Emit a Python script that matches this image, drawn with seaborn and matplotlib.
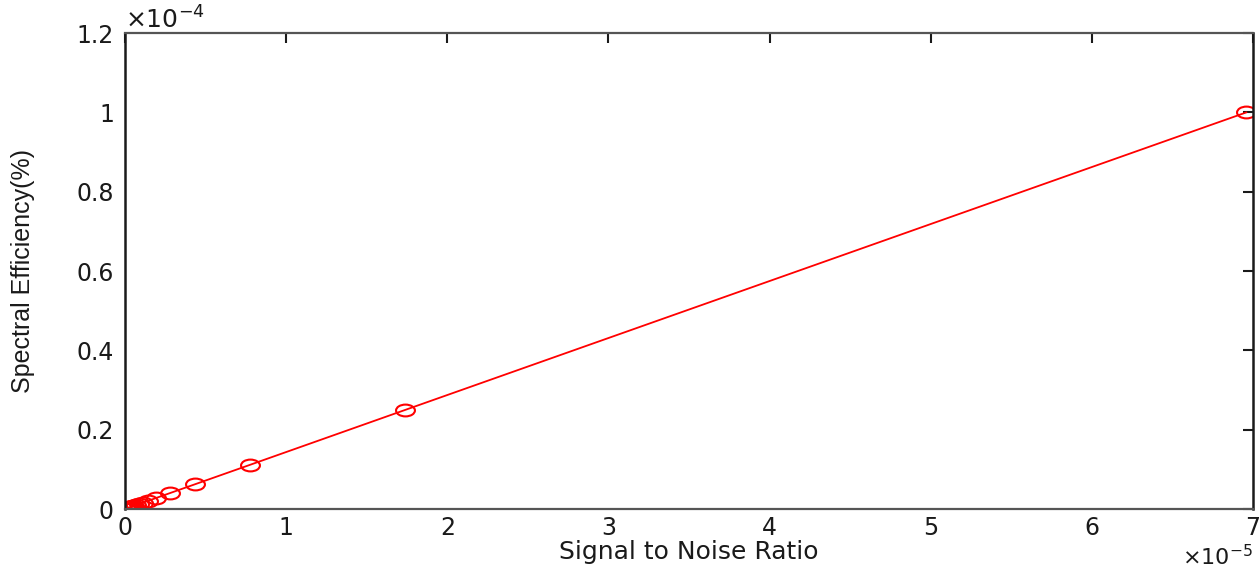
import numpy as np
import matplotlib
matplotlib.use("Agg")
import matplotlib.pyplot as plt
import seaborn as sns
import pandas as pd
from matplotlib.markers import MarkerStyle
from matplotlib.transforms import Affine2D
from matplotlib.ticker import ScalarFormatter, MultipleLocator

# values (x shown in units of 1e-5, y in units of 1e-4)
snr = [6.96e-5, 1.74e-5, 7.73e-6, 4.35e-6, 2.78e-6, 1.93e-6, 1.42e-6, 1.09e-6,
       8.6e-7, 6.96e-7, 5.75e-7, 4.83e-7, 4.12e-7, 3.55e-7, 3.09e-7, 2.72e-7,
       2.41e-7, 2.15e-7, 1.93e-7, 1.74e-7, 1.58e-7, 1.44e-7, 1.32e-7, 1.21e-7,
       1.11e-7, 1.03e-7, 9.5e-8, 8.9e-8, 8.3e-8, 7.7e-8, 7.2e-8, 6.8e-8,
       6.4e-8, 6.0e-8, 5.7e-8, 5.4e-8, 5.1e-8, 4.8e-8, 4.6e-8, 4.4e-8]
spec_eff = [1.0e-4, 2.5e-5, 1.11e-5, 6.25e-6, 4.0e-6, 2.78e-6, 2.04e-6, 1.56e-6,
            1.23e-6, 1.0e-6, 8.26e-7, 6.94e-7, 5.92e-7, 5.1e-7, 4.44e-7, 3.91e-7,
            3.46e-7, 3.09e-7, 2.77e-7, 2.5e-7, 2.27e-7, 2.07e-7, 1.89e-7, 1.74e-7,
            1.6e-7, 1.48e-7, 1.37e-7, 1.28e-7, 1.19e-7, 1.11e-7, 1.04e-7, 9.8e-8,
            9.2e-8, 8.7e-8, 8.2e-8, 7.7e-8, 7.3e-8, 6.9e-8, 6.6e-8, 6.3e-8]

df = pd.DataFrame({"snr": snr, "se": spec_eff})

sns.set_style("white")
plt.rcParams["font.family"] = ["DejaVu Sans"]
plt.rcParams["axes.formatter.use_mathtext"] = True


class TrimFormatter(ScalarFormatter):
    # matlab style tick labels: 0, 0.2, ..., 1, 1.2
    def _set_format(self):
        self.format = "%g"


fig = plt.figure(figsize=(12.6, 5.69), dpi=100)
ax = fig.add_axes([0.0992, 0.1054, 0.8952, 0.8366])

# the reference image is stretched sideways, so the circles look like ellipses
ell = MarkerStyle("o", transform=Affine2D().scale(1.6, 1.0))
sns.lineplot(data=df, x="snr", y="se", ax=ax, color="red", linewidth=1.3,
             marker=ell, markersize=8.5, markerfacecolor="none",
             markeredgecolor="red", markeredgewidth=1.5)

ax.set_xlim(0, 7e-5)
ax.set_ylim(0, 1.2e-4)
ax.xaxis.set_major_locator(MultipleLocator(1e-5))
ax.yaxis.set_major_locator(MultipleLocator(2e-5))
for axis in (ax.xaxis, ax.yaxis):
    fmt = TrimFormatter(useMathText=True)
    fmt.set_powerlimits((0, 0))
    axis.set_major_formatter(fmt)

ax.tick_params(direction="in", length=7, width=1.5, top=True, right=True,
               labelsize=17, colors="#1a1a1a")
ax.tick_params(axis="x", pad=5)
ax.tick_params(axis="y", pad=8)
ax.xaxis.get_offset_text().set_fontsize(16)
ax.yaxis.get_offset_text().set_fontsize(18)

for side in ["left", "right"]:
    ax.spines[side].set_color("#1a1a1a")
    ax.spines[side].set_linewidth(1.8)
for side in ["top", "bottom"]:
    ax.spines[side].set_color("#555555")
    ax.spines[side].set_linewidth(1.6)

ax.set_xlabel("Signal to Noise Ratio", fontsize=18, color="#1a1a1a", labelpad=0)
ax.set_ylabel("Spectral Efficiency(%)", fontsize=18, color="#1a1a1a",
              family=["Liberation Sans"], labelpad=30)

fig.savefig("out.png", dpi=100)
